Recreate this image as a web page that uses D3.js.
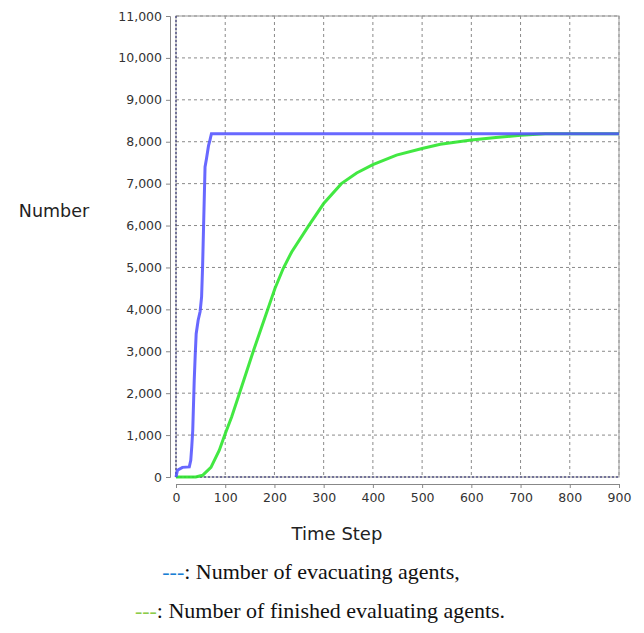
<!DOCTYPE html>
<html>
<head>
<meta charset="utf-8">
<script src="https://cdn.jsdelivr.net/npm/d3@7"></script>
<style>
  body { margin: 0; background: #fff; }
  svg text { font-family: "DejaVu Sans", sans-serif; }
</style>
</head>
<body>
<div id="vis"></div>
<script>
// time steps and values
const evacT = [0, 3, 13, 27, 30, 32, 34, 37, 39, 41, 45, 49, 52, 54, 56, 59, 62, 66, 69, 72, 900];
const evacV = [0, 160, 230, 240, 400, 720, 1110, 2300, 2900, 3420, 3740, 3950, 4300, 5010, 5970, 7400, 7600, 7900, 8040, 8190, 8190];

const finT = [0, 40, 54, 71, 88, 99, 113, 129, 157, 187, 201, 218, 235, 269, 300, 336, 367, 400, 448, 500, 537, 600, 650, 700, 750, 900];
const finV = [0, 0, 40, 230, 640, 1000, 1430, 2000, 3000, 4020, 4500, 4980, 5370, 5985, 6525, 7000, 7255, 7455, 7680, 7840, 7940, 8040, 8100, 8155, 8190, 8190];

const xTicks = [0, 100, 200, 300, 400, 500, 600, 700, 800, 900];
const yTicks = [0, 1000, 2000, 3000, 4000, 5000, 6000, 7000, 8000, 9000, 10000, 11000];

const margin = { top: 16, right: 25, bottom: 156, left: 176 };
const W = 644, H = 633;
const width = W - margin.left - margin.right;
const height = H - margin.top - margin.bottom;

const svg = d3.select("#vis").append("svg")
    .attr("width", W)
    .attr("height", H);

const g = svg.append("g")
    .attr("transform", `translate(${[margin.left, margin.top]})`);

const x = d3.scaleLinear().domain([0, 900]).range([0, width]);
const y = d3.scaleLinear().domain([0, 11000]).range([height, 0]);

// grid
g.append("g").selectAll("line")
    .data(xTicks.slice(1))
    .enter().append("line")
    .attr("x1", d => x(d)).attr("x2", d => x(d))
    .attr("y1", 0).attr("y2", height)
    .style("stroke", "#8a8a8a")
    .style("stroke-dasharray", "3,3");
g.append("g").selectAll("line")
    .data(yTicks.slice(1))
    .enter().append("line")
    .attr("x1", 0).attr("x2", width)
    .attr("y1", d => y(d)).attr("y2", d => y(d))
    .style("stroke", "#8a8a8a")
    .style("stroke-dasharray", "3,3");

// frame
g.append("rect")
    .attr("x", 0).attr("y", 0)
    .attr("width", width).attr("height", height)
    .style("fill", "none")
    .style("stroke", "#999");

// zero lines
g.append("line")
    .attr("x1", x(0)).attr("x2", x(0)).attr("y1", 0).attr("y2", height)
    .style("stroke", "#1a1a66").style("stroke-dasharray", "2,2");
g.append("line")
    .attr("x1", 0).attr("x2", width).attr("y1", y(0)).attr("y2", y(0))
    .style("stroke", "#1a1a66").style("stroke-dasharray", "2,2");

// axes, offset from the plot area
const yAxis = g.append("g")
    .attr("transform", "translate(-6,0)")
    .call(d3.axisLeft(y).tickValues(yTicks).tickFormat(d3.format(",")).tickSizeOuter(0).tickSize(4));
const xAxis = g.append("g")
    .attr("transform", `translate(0,${height + 7})`)
    .call(d3.axisBottom(x).tickValues(xTicks).tickSizeOuter(0).tickSize(4));
[yAxis, xAxis].forEach(a => {
    a.select(".domain").style("stroke", "#888");
    a.selectAll(".tick line").style("stroke", "#888");
    a.selectAll("text").style("font-size", "12.5px").style("fill", "#333")
        .style("font-family", "DejaVu Sans, sans-serif");
});
yAxis.selectAll("text").attr("x", -8);
xAxis.selectAll("text").attr("y", 9);

// series
const line = d3.line().x(d => x(d[0])).y(d => y(d[1]));
g.append("path")
    .datum(finT.map((t, i) => [t, finV[i]]))
    .attr("d", line)
    .style("fill", "none")
    .style("stroke", "#2ee62e")
    .style("stroke-width", 3)
    .style("stroke-opacity", 0.9);
g.append("path")
    .datum(evacT.map((t, i) => [t, evacV[i]]))
    .attr("d", line)
    .style("fill", "none")
    .style("stroke", "#4d4dff")
    .style("stroke-width", 3)
    .style("stroke-opacity", 0.85);

// axis titles
svg.append("text")
    .attr("x", 54).attr("y", 217)
    .attr("text-anchor", "middle")
    .style("font-size", "17.5px").style("fill", "#222")
    .text("Number");
svg.append("text")
    .attr("x", 337).attr("y", 540)
    .attr("text-anchor", "middle")
    .style("font-size", "18px").style("fill", "#222")
    .text("Time Step");

// caption legend
const legend = [
    { dash: "---", color: "#1a7fd4", label: ": Number of evacuating agents,", x: 311, y: 579 },
    { dash: "---", color: "#8ccc4a", label: ": Number of finished evaluating agents.", x: 320, y: 618 }
];
legend.forEach(l => {
    const t = svg.append("text")
        .attr("x", l.x).attr("y", l.y)
        .attr("text-anchor", "middle")
        .style("font-family", "Liberation Serif, serif")
        .style("font-size", "22px")
        .style("fill", "#111");
    t.append("tspan").style("fill", l.color).text(l.dash);
    t.append("tspan").text(l.label);
});
</script>
</body>
</html>
